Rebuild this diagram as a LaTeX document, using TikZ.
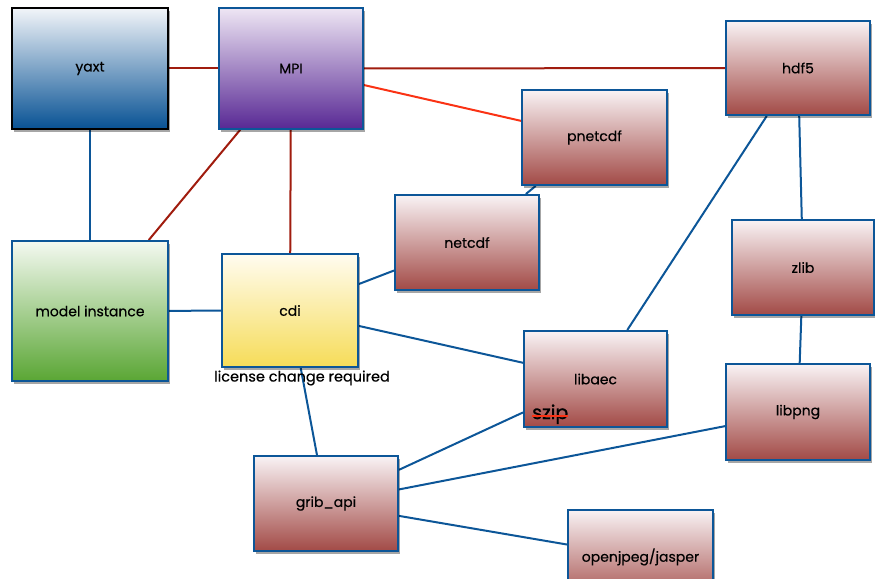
\documentclass[tikz,border=0pt]{standalone}
\usepackage{fontspec}
\setmainfont{Poppins}[FakeBold=0.4]
\newfontfamily\szipfont{Poppins}[FakeBold=1.2]
\usetikzlibrary{shadows,calc}
\pgfdeclarelayer{bg}
\pgfsetlayers{bg,main}
\definecolor{edgeblue}{RGB}{12,86,152}
\definecolor{darkred}{RGB}{160,28,14}
\definecolor{brightred}{RGB}{250,50,20}
\definecolor{redtop}{RGB}{249,243,245}
\definecolor{redbot}{RGB}{162,74,70}
\definecolor{bluetop}{RGB}{242,245,249}
\definecolor{bluebot}{RGB}{8,82,148}
\definecolor{purptop}{RGB}{238,230,244}
\definecolor{purpbot}{RGB}{88,40,148}
\definecolor{greentop}{RGB}{244,249,241}
\definecolor{greenbot}{RGB}{90,166,52}
\definecolor{yeltop}{RGB}{255,252,240}
\definecolor{yelbot}{RGB}{246,220,88}
\tikzset{
  box/.style={draw=edgeblue, line width=2pt, inner sep=0pt, anchor=center,
    font=\fontsize{14}{16}\selectfont,
    drop shadow={shadow xshift=2pt, shadow yshift=-3pt, opacity=0.35, fill=black}},
  redbox/.style={box, top color=redtop, bottom color=redbot},
  blink/.style={draw=edgeblue, line width=2pt},
  rlink/.style={draw=darkred, line width=2pt},
  brlink/.style={draw=brightred, line width=2pt},
}
\begin{document}
\begin{tikzpicture}[x=1pt,y=-1pt]
\useasboundingbox (0,0) rectangle (875,578);
\node[box, draw=black, line width=1.2pt, top color=bluetop, bottom color=bluebot, minimum width=156pt, minimum height=121pt] (yaxt) at (90,68.5) {yaxt};
\node[box, line width=1.2pt, top color=purptop, bottom color=purpbot, minimum width=144pt, minimum height=121pt] (mpi) at (291,68.5) {MPI};
\node[redbox, minimum width=144pt, minimum height=94pt] (hdf5) at (798,68) {hdf5};
\node[redbox, minimum width=145pt, minimum height=95pt] (pnetcdf) at (594.5,137.5) {pnetcdf};
\node[redbox, minimum width=144pt, minimum height=95pt] (netcdf) at (467,242.5) {netcdf};
\node[box, top color=greentop, bottom color=greenbot, minimum width=156pt, minimum height=140pt] (model) at (90,311) {model instance};
\node[box, top color=yeltop, bottom color=yelbot, minimum width=136pt, minimum height=113pt] (cdi) at (290,310.5) {cdi};
\node[redbox, minimum width=142pt, minimum height=95pt] (zlib) at (803,267.5) {zlib};
\node[redbox, minimum width=143pt, minimum height=96pt] (libaec) at (595.5,379) {libaec};
\node[redbox, minimum width=144pt, minimum height=96pt] (libpng) at (798,412) {libpng};
\node[redbox, minimum width=144pt, minimum height=95pt] (grib) at (326,503.5) {grib\_api};
\node[redbox, minimum width=145pt, minimum height=95pt] (openjpeg) at (640.5,557) {openjpeg/jasper};
\node[font=\fontsize{14.5}{16}\selectfont, inner sep=0pt] (license) at (302,378) {license change required};
\node[font=\szipfont\fontsize{19}{21}\selectfont, inner sep=0pt, anchor=base west] (szip) at (532,419) {szip};
\draw[brightred, line width=2pt] ($(szip.base west)+(0,-3)$) -- ($(szip.base east)+(0,-3)$);
\begin{pgfonlayer}{bg}
\draw[rlink] (yaxt) -- (mpi);
\draw[rlink] (mpi) -- (hdf5);
\draw[brlink] (mpi) -- (pnetcdf);
\draw[rlink] (mpi) -- (model);
\draw[rlink] (mpi) -- (cdi);
\draw[blink] (yaxt) -- (model);
\draw[blink] (model) -- (cdi);
\draw[blink] (cdi) -- (netcdf);
\draw[blink] (pnetcdf) -- (netcdf);
\draw[blink] (cdi) -- (libaec);
\draw[blink] (hdf5) -- (libaec);
\draw[blink] (hdf5) -- (zlib);
\draw[blink] (zlib) -- (libpng);
\draw[blink] (cdi) -- (grib);
\draw[blink] (libaec) -- (grib);
\draw[blink] (libpng) -- (grib);
\draw[blink] (grib) -- (openjpeg);
\end{pgfonlayer}
\end{tikzpicture}
\end{document}
